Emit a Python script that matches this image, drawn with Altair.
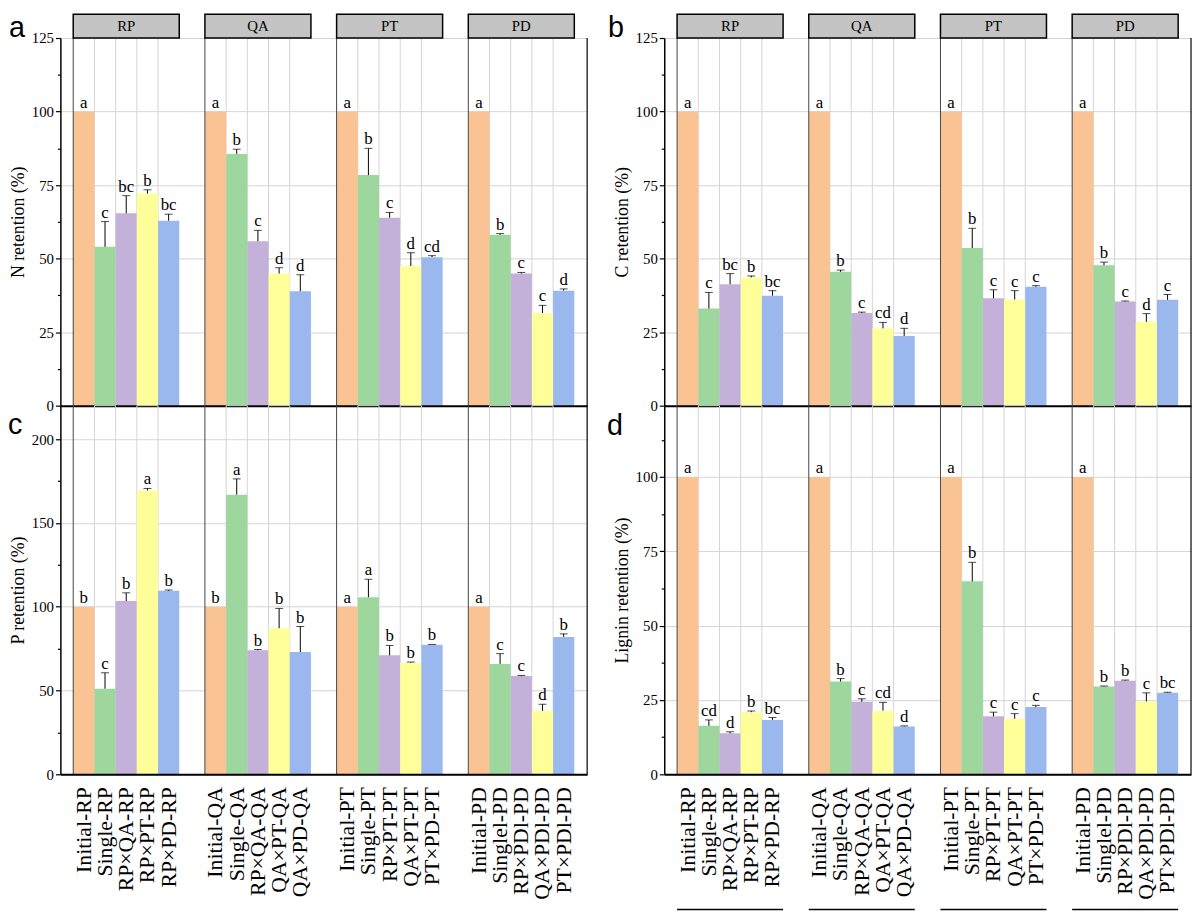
import altair as alt
import pandas as pd

groups = ["RP", "QA", "PT", "PD"]
treatments = [
    "Initial-RP", "Single-RP", "RP×QA-RP", "RP×PT-RP", "RP×PD-RP",
    "Initial-QA", "Single-QA", "RP×QA-QA", "QA×PT-QA", "QA×PD-QA",
    "Initial-PT", "Single-PT", "RP×PT-PT", "QA×PT-PT", "PT×PD-PT",
    "Initial-PD", "Singlel-PD", "RP×PDl-PD", "QA×PDl-PD", "PT×PDl-PD",
]
bar_colors = ["#FAC393", "#9ED79E", "#C3B1D9", "#FFFF99", "#9BB8EE"]

# Panel a: N retention
n_vals = [100, 54.0, 65.4, 72.1, 62.9, 100, 85.6, 55.9, 44.9, 38.9,
          100, 78.4, 63.9, 47.5, 50.5, 100, 58.1, 44.9, 31.5, 39.1]
n_err = [0, 8.6, 6.0, 1.3, 2.2, 0, 1.6, 3.7, 2.0, 5.6,
         0, 9.1, 1.8, 4.5, 0.5, 0, 0.4, 0.4, 2.6, 0.6]
n_sig = ["a", "c", "bc", "b", "bc", "a", "b", "c", "d", "d",
         "a", "b", "c", "d", "cd", "a", "b", "c", "c", "d"]

# Panel b: C retention
c_vals = [100, 33.0, 41.3, 43.6, 37.4, 100, 45.5, 31.5, 26.3, 23.7,
          100, 53.6, 36.5, 36.1, 40.4, 100, 47.7, 35.4, 28.5, 36.0]
c_err = [0, 5.5, 3.6, 0.5, 1.7, 0, 0.6, 0.3, 2.0, 2.6,
         0, 6.7, 2.9, 3.0, 0.4, 0, 1.1, 0.2, 2.8, 1.8]
c_sig = ["a", "c", "bc", "b", "bc", "a", "b", "c", "cd", "d",
         "a", "b", "c", "c", "c", "a", "b", "c", "d", "c"]

# Panel c: P retention
p_vals = [100, 51.1, 103.4, 169.4, 109.5, 100, 166.9, 74.0, 87.2, 73.0,
          100, 105.7, 71.0, 66.5, 77.3, 100, 65.9, 58.6, 37.9, 82.0]
p_err = [0, 9.5, 4.9, 1.2, 0.5, 0, 9.4, 0.5, 11.8, 15.2,
         0, 10.7, 5.9, 0.5, 0.2, 0, 6.1, 0.4, 3.9, 1.8]
p_sig = ["b", "c", "b", "a", "b", "b", "a", "b", "b", "b",
         "a", "a", "b", "b", "b", "a", "c", "c", "d", "b"]

# Panel d: Lignin retention
l_vals = [100, 16.3, 13.8, 20.9, 18.3, 100, 31.2, 24.4, 21.4, 16.1,
          100, 64.9, 19.5, 18.7, 22.6, 100, 29.5, 31.5, 24.5, 27.4]
l_err = [0, 2.0, 0.5, 0.4, 0.8, 0, 1.0, 1.0, 2.8, 0.2,
         0, 6.4, 1.4, 1.7, 0.6, 0, 0.2, 0.2, 2.9, 0.2]
l_sig = ["a", "cd", "d", "b", "bc", "a", "b", "c", "cd", "d",
         "a", "b", "c", "c", "c", "a", "b", "b", "c", "bc"]

SERIF = "Liberation Serif"
SANS = "Liberation Sans"
W = 533


def make_df(vals, errs, sigs):
    rows = []
    for gi, g in enumerate(groups):
        for k in range(5):
            i = gi * 5 + k
            rows.append({"group": g, "k": k, "label": treatments[i],
                         "value": vals[i], "err": errs[i],
                         "top": vals[i] + errs[i], "sig": sigs[i]})
    return pd.DataFrame(rows)


def panel(vals, errs, sigs, ytitle, ymax, tick_max, major, minor, letter, letter_x, letter_y,
          letter_base, h, strips=False, labels=False, lines=False):
    df = make_df(vals, errs, sigs)
    gdf = pd.DataFrame({"group": groups})
    one = pd.DataFrame({"z": [0]})
    xs = alt.Scale(domain=groups, paddingInner=0.195, paddingOuter=0.0975)
    xo = alt.Scale(domain=[0, 1, 2, 3, 4], paddingInner=0, paddingOuter=0)
    xaxis = alt.Axis(labels=False, ticks=False, title=None, grid=False,
                     domainColor="black", domainWidth=2)
    nvals = int(round(tick_max / minor))
    tvals = [i * minor for i in range(nvals + 1)]
    test = f"datum.value % {major} === 0"
    yaxis = alt.Axis(
        values=tvals, title=ytitle, grid=True, gridColor="#d4d4d4", gridWidth=1,
        gridOpacity={"condition": {"test": test, "value": 1}, "value": 0},
        tickSize={"condition": {"test": test, "value": 5}, "value": 3},
        labelExpr=f"{test} ? datum.label : ''",
        labelFont=SERIF, labelFontSize=15, labelColor="black", labelPadding=2,
        titleFont=SERIF, titleFontSize=18, titleFontWeight="normal",
        titleColor="black", titlePadding=4,
        domainColor="black", domainWidth=1.5, tickColor="black", tickWidth=1.2,
    )
    ys = alt.Scale(domain=[0, ymax], nice=False, zero=True)
    X = alt.X("group:N", scale=xs, axis=xaxis)
    XO = alt.XOffset("k:O", scale=xo)

    base = alt.Chart(df)
    vgrid = base.transform_filter("datum.k == 1 || datum.k == 3").mark_rect(
        fillOpacity=0, stroke="#d4d4d4", strokeWidth=1
    ).encode(x=X, xOffset=XO, y=alt.value(0), y2=alt.value(h))
    bars = base.mark_bar().encode(
        x=X, xOffset=XO,
        y=alt.Y("value:Q", scale=ys, axis=yaxis),
        color=alt.Color("k:O", scale=alt.Scale(domain=[0, 1, 2, 3, 4], range=bar_colors), legend=None),
    )
    glines = alt.Chart(gdf).mark_rule(color="#444444", strokeWidth=1).encode(
        x=alt.X("group:N", scale=xs, axis=xaxis, bandPosition=0),
        y=alt.value(0), y2=alt.value(h))
    ebase = base.transform_filter("datum.err > 0")
    erule = ebase.mark_rule(color="black", strokeWidth=1).encode(
        x=X, xOffset=XO, y=alt.Y("value:Q", scale=ys, axis=yaxis), y2="top:Q")
    ecap = ebase.mark_tick(color="black", thickness=1, size=8).encode(
        x=X, xOffset=XO, y=alt.Y("top:Q", scale=ys, axis=yaxis))
    sig = base.mark_text(font=SERIF, fontSize=17, baseline="alphabetic", dy=-4, color="black").encode(
        x=X, xOffset=XO, y=alt.Y("top:Q", scale=ys, axis=yaxis), text="sig:N")
    frame = alt.Chart(one).mark_rule(color="black", strokeWidth=1.2).encode(
        x=alt.value(W), y=alt.value(0), y2=alt.value(h))
    let = alt.Chart(one).mark_text(font=SANS, fontSize=29, align="left",
                                   baseline=letter_base, color="black").encode(
        x=alt.value(letter_x), y=alt.value(letter_y), text=alt.value(letter))

    layers = [vgrid, bars, glines, erule, ecap, sig, frame, let]
    if strips:
        sbox = alt.Chart(gdf).mark_bar(fill="#C4C4C4", stroke="black", strokeWidth=1.5).encode(
            x=X, y=alt.value(-24), y2=alt.value(0))
        stxt = alt.Chart(gdf).mark_text(font=SERIF, fontSize=15, color="black", baseline="middle").encode(
            x=X, y=alt.value(-12), text="group:N")
        layers += [sbox, stxt]
    if labels:
        ltxt = base.mark_text(font=SERIF, fontSize=22, angle=270, align="right",
                              baseline="middle", color="black").encode(
            x=X, xOffset=XO, y=alt.value(h + 13), text="label:N")
        layers.append(ltxt)
    if lines:
        bl = alt.Chart(gdf).mark_bar(color="black").encode(
            x=X, y=alt.value(h + 136), y2=alt.value(h + 137.5))
        layers.append(bl)
    return alt.layer(*layers).properties(width=W, height=h)


pa = panel(n_vals, n_err, n_sig, "N retention (%)", 125, 125, 25, 12.5, "a", -52, -24, "top", 372, strips=True)
pb = panel(c_vals, c_err, c_sig, "C retention (%)", 125, 125, 25, 12.5, "b", -57, -24, "top", 372, strips=True)
pc = panel(p_vals, p_err, p_sig, "P retention (%)", 220, 200, 50, 25, "c", -53, 29, "alphabetic", 373,
           labels=True)
pd_ = panel(l_vals, l_err, l_sig, "Lignin retention (%)", 124, 112.5, 25, 12.5, "d", -58, 30, "alphabetic", 373,
            labels=True, lines=True)

col1 = alt.vconcat(pa, pc, spacing=0, bounds="flush")
col2 = alt.vconcat(pb, pd_, spacing=0, bounds="flush")
chart = (
    alt.hconcat(col1, col2, spacing=19)
    .properties(padding=0)
    .configure_view(stroke=None)
    .configure_axis(labelFont=SERIF, titleFont=SERIF)
)

chart.save("out.html", embed_options={"renderer": "svg", "actions": False})
